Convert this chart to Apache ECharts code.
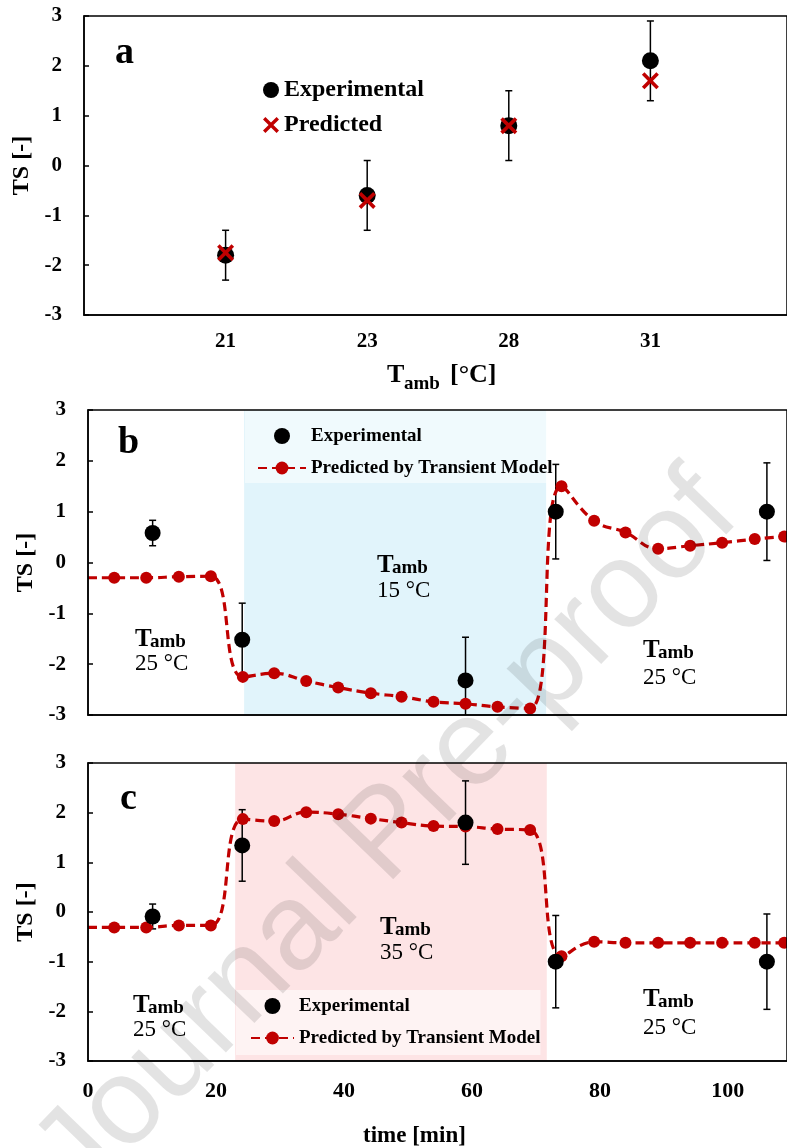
<!DOCTYPE html>
<html>
<head>
<meta charset="utf-8">
<script src="https://cdn.jsdelivr.net/npm/echarts@6/dist/echarts.min.js"></script>
<style>
html, body { margin: 0; padding: 0; background: #fff; overflow: hidden; }
#main { width: 787px; height: 1148px; }
</style>
</head>
<body>
<div id="main"></div>
<script>
// 圖 a：不同環境溫度下的穩態 TS
const tambCats = ['21', '23', '28', '31'];
const aExpTS = [-1.8, -0.6, 0.8, 2.1];
const aExpErr = [0.5, 0.7, 0.7, 0.8];
const aPredTS = [-1.75, -0.7, 0.8, 1.7];

// 圖 b / c 共用的時間軸 (min)
const predTime = [0, 4.1, 9.1, 14.2, 19.2, 24.2, 29.1, 34.1, 39.1, 44.2, 49, 54, 59, 64, 69.1, 74, 79.1, 84, 89.1, 94.1, 99.1, 104.2, 108.8];
const expTime = [10.1, 24.1, 59, 73.1, 106.1];

// 圖 b：25 → 15 → 25 °C
const bExpTS = [0.58, -1.52, -2.32, 1.0, 1.0];
const bExpErr = [0.25, 0.72, 0.85, 0.93, 0.96];
const bPredTS = [-0.3, -0.3, -0.3, -0.28, -0.27, -2.25, -2.18, -2.33, -2.46, -2.57, -2.64, -2.74, -2.78, -2.84, -2.87, 1.5, 0.82, 0.59, 0.27, 0.33, 0.39, 0.46, 0.51];
const coldSpan = [24.4, 71.6];

// 圖 c：25 → 35 → 25 °C
const cExpTS = [-0.09, 1.34, 1.8, -1.0, -1.0];
const cExpErr = [0.25, 0.72, 0.84, 0.93, 0.96];
const cPredTS = [-0.31, -0.31, -0.31, -0.27, -0.27, 1.87, 1.83, 2.01, 1.97, 1.88, 1.8, 1.73, 1.72, 1.67, 1.65, -0.89, -0.6, -0.62, -0.62, -0.62, -0.62, -0.62, -0.62];
const hotSpan = [23.0, 71.7];

const TS_MIN = -3;
const TS_MAX = 3;
const RED = '#c00000';
const SERIF = '"Liberation Serif", "Times New Roman", serif';
const CROSS = 'path://M1.5,0 L5,3.5 L8.5,0 L10,1.5 L6.5,5 L10,8.5 L8.5,10 L5,6.5 L1.5,10 L0,8.5 L3.5,5 L0,1.5 Z';

const myChart = echarts.init(document.getElementById('main'));

// 誤差棒
function errorBars(xs, ys, errs, idx) {
    return {
        type: 'custom',
        xAxisIndex: idx,
        yAxisIndex: idx,
        silent: true,
        z: 2,
        data: xs.map((x, i) => [x, ys[i] - errs[i], ys[i] + errs[i]]),
        renderItem: function (params, api) {
            const loVal = Math.max(api.value(1), TS_MIN);
            const lo = api.coord([api.value(0), loVal]);
            const hi = api.coord([api.value(0), api.value(2)]);
            const w = 3.5;
            const st = { stroke: '#000', lineWidth: 1.5 };
            const children = [
                { type: 'line', shape: { x1: lo[0], y1: lo[1], x2: hi[0], y2: hi[1] }, style: st },
                { type: 'line', shape: { x1: hi[0] - w, y1: hi[1], x2: hi[0] + w, y2: hi[1] }, style: st }
            ];
            if (loVal === api.value(1)) {
                children.push({ type: 'line', shape: { x1: lo[0] - w, y1: lo[1], x2: lo[0] + w, y2: lo[1] }, style: st });
            }
            return { type: 'group', children: children };
        }
    };
}

function predLine(ts, idx, span, color) {
    return {
        name: 'Predicted by Transient Model',
        type: 'line',
        xAxisIndex: idx,
        yAxisIndex: idx,
        z: 3,
        smooth: 0.45,
        symbol: 'circle',
        symbolSize: 12,
        data: predTime.map((t, i) => i === 0 ? { value: [t, ts[i]], symbol: 'none' } : [t, ts[i]]),
        lineStyle: { color: RED, width: 3.2, type: [9, 5] },
        itemStyle: { color: RED, opacity: 1 },
        markArea: {
            silent: true,
            itemStyle: { color: color },
            data: [[{ xAxis: span[0] }, { xAxis: span[1] }]]
        }
    };
}

function expScatter(xs, ys, idx) {
    return {
        name: 'Experimental',
        type: 'scatter',
        xAxisIndex: idx,
        yAxisIndex: idx,
        z: 4,
        symbolSize: 16,
        data: xs.map((x, i) => [x, ys[i]]),
        itemStyle: { color: '#000', opacity: 1 }
    };
}

function yAx(idx) {
    return {
        gridIndex: idx, type: 'value', min: TS_MIN, max: TS_MAX, interval: 1, z: 5,
        name: 'TS [-]', nameLocation: 'middle', nameGap: 41,
        nameTextStyle: { fontFamily: SERIF, fontWeight: 'bold', fontSize: 24, color: '#000' },
        axisLine: { show: true, lineStyle: { color: '#000', width: 1.5 } },
        axisTick: { show: true, inside: true, length: 5, lineStyle: { color: '#000', width: 1.5 } },
        axisLabel: { fontFamily: SERIF, fontWeight: 'bold', fontSize: 21, color: '#000', margin: 22 },
        splitLine: { show: false }
    };
}

function xLine() {
    return { show: true, onZero: false, lineStyle: { color: '#000', width: 1.5 } };
}

function gridBox(left, top, height) {
    return { left: left, top: top, right: -2, height: height, show: true, z: 5,
        borderColor: '#000', borderWidth: 1.5, backgroundColor: 'transparent' };
}

// 文字
function txt(x, baseline, s, size, weight) {
    return {
        type: 'text', x: x, y: baseline - 0.305 * size, silent: true, z: 20,
        style: { text: s, fill: '#000', align: 'left', verticalAlign: 'middle',
            font: weight + ' ' + size + 'px ' + SERIF }
    };
}

function tamb(x, bT, bTemp, temp) {
    return [
        txt(x, bT, 'T', 25, 'bold'),
        txt(x + 15, bT + 1, 'amb', 19, 'bold'),
        txt(x, bTemp, temp, 23, 'normal')
    ];
}

const legendText = { fontFamily: SERIF, fontWeight: 'bold', color: '#000' };

const option = {
    animation: false,
    textStyle: { fontFamily: SERIF },
    grid: [gridBox(84, 16, 299), gridBox(88, 410, 305), gridBox(88, 763, 298)],
    xAxis: [
        {
            gridIndex: 0, type: 'value', min: 0, max: 705 / 142, interval: 1, z: 5,
            axisLine: xLine(),
            axisTick: { show: false },
            splitLine: { show: false },
            axisLabel: {
                fontFamily: SERIF, fontWeight: 'bold', fontSize: 21, color: '#000', margin: 16,
                showMaxLabel: false,
                formatter: v => Number.isInteger(v) ? (tambCats[v - 1] || '') : ''
            }
        },
        {
            gridIndex: 1, type: 'value', min: 0, max: 701 / 6.417, interval: 20, z: 5,
            axisLine: xLine(),
            axisTick: { show: false },
            splitLine: { show: false },
            axisLabel: { show: false }
        },
        {
            gridIndex: 2, type: 'value', min: 0, max: 701 / 6.417, interval: 20, z: 5,
            axisLine: xLine(),
            axisTick: { show: false },
            splitLine: { show: false },
            axisLabel: {
                fontFamily: SERIF, fontWeight: 'bold', fontSize: 22, color: '#000', margin: 19,
                showMaxLabel: false,
                formatter: v => v % 20 === 0 ? String(v) : ''
            }
        }
    ],
    yAxis: [yAx(0), yAx(1), yAx(2)],
    legend: [
        {
            left: 263, top: 78, orient: 'vertical', padding: 0,
            itemWidth: 16, itemHeight: 16, itemGap: 11,
            data: ['Experimental', 'Predicted'],
            textStyle: Object.assign({ fontSize: 24, lineHeight: 24 }, legendText)
        },
        {
            left: 245, top: 410, orient: 'vertical', padding: [16, 0, 5, 12],
            itemWidth: 48, itemHeight: 16, itemGap: 12,
            backgroundColor: 'rgba(255,255,255,0.5)',
            data: ['Experimental', 'Predicted by Transient Model'],
            textStyle: Object.assign({ fontSize: 19, lineHeight: 20 }, legendText)
        },
        {
            left: 236, top: 990, orient: 'vertical', padding: [6, 0, 7, 14],
            itemWidth: 43, itemHeight: 16, itemGap: 12,
            backgroundColor: 'rgba(255,255,255,0.55)',
            data: ['Experimental', 'Predicted by Transient Model'],
            textStyle: Object.assign({ fontSize: 19, lineHeight: 20 }, legendText)
        }
    ],
    series: [
        errorBars([1, 2, 3, 4], aExpTS, aExpErr, 0),
        {
            name: 'Experimental', type: 'scatter', xAxisIndex: 0, yAxisIndex: 0, z: 3,
            symbolSize: 17, data: aExpTS.map((v, i) => [i + 1, v]),
            itemStyle: { color: '#000', opacity: 1 }
        },
        {
            name: 'Predicted', type: 'scatter', xAxisIndex: 0, yAxisIndex: 0, z: 4,
            symbol: CROSS, symbolSize: 17, data: aPredTS.map((v, i) => [i + 1, v]),
            itemStyle: { color: RED, opacity: 1 }
        },
        predLine(bPredTS, 1, coldSpan, '#e1f4fb'),
        errorBars(expTime, bExpTS, bExpErr, 1),
        expScatter(expTime, bExpTS, 1),
        predLine(cPredTS, 2, hotSpan, '#fde4e5'),
        errorBars(expTime, cExpTS, cExpErr, 2),
        expScatter(expTime, cExpTS, 2)
    ],
    graphic: [
        txt(115, 65, 'a', 38, 'bold'),
        txt(118, 455, 'b', 38, 'bold'),
        txt(120, 811, 'c', 38, 'bold'),
        txt(387, 383, 'T', 26, 'bold'),
        txt(404, 390, 'amb', 19, 'bold'),
        txt(450, 383, '[°C]', 26, 'bold'),
        txt(363, 1143, 'time [min]', 23, 'bold'),
        ...tamb(135, 647, 671, '25 °C'),
        ...tamb(377, 573, 598, '15 °C'),
        ...tamb(643, 658, 685, '25 °C'),
        ...tamb(133, 1013, 1037, '25 °C'),
        ...tamb(380, 935, 960, '35 °C'),
        ...tamb(643, 1007, 1035, '25 °C'),
        {
            type: 'text', x: 388, y: 836, rotation: 46 * Math.PI / 180, silent: true, z: 100,
            style: { text: 'Journal Pre-proof', fill: 'rgba(0,0,0,0.11)', align: 'center',
                verticalAlign: 'middle', font: '123px "Liberation Sans", Arial, sans-serif' }
        }
    ]
};

myChart.setOption(option);
</script>
</body>
</html>
